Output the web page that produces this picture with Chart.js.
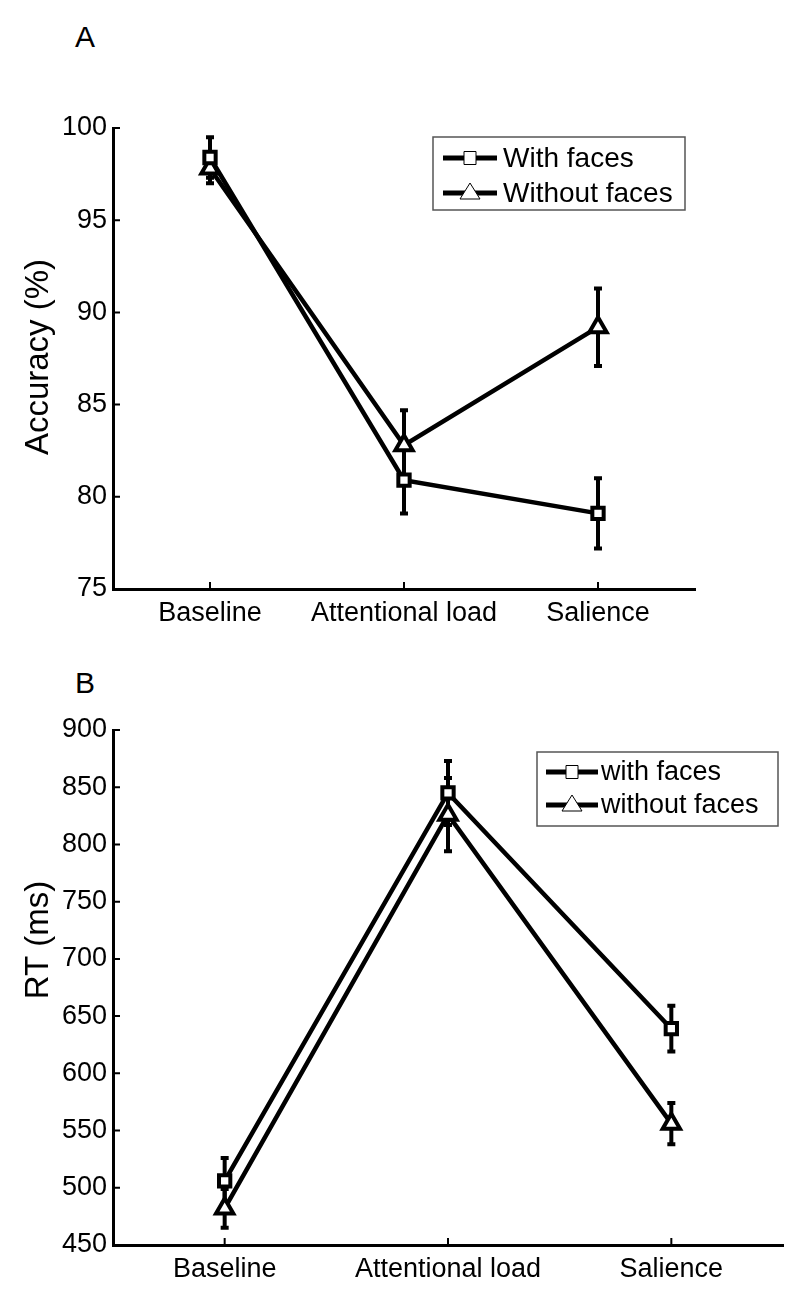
<!DOCTYPE html>
<html>
<head>
<meta charset="utf-8">
<script src="https://cdn.jsdelivr.net/npm/chart.js@4"></script>
<style>
    body { margin: 0; background: #fff; width: 800px; height: 1304px; position: relative; overflow: hidden; font-family: "Liberation Sans", Arial, sans-serif; }
    .letter { position: absolute; left: 75px; font-size: 30px; line-height: 30px; color: #000; }
    canvas { position: absolute; left: 0; }
</style>
</head>
<body>
<div class="letter" style="top:22px">A</div>
<canvas id="chartA" width="800" height="650" style="top:0"></canvas>
<div class="letter" style="top:668px">B</div>
<canvas id="chartB" width="800" height="654" style="top:650px"></canvas>
<script>
// data
const categories = ['Baseline', 'Attentional load', 'Salience'];

const accWithFaces = [98.4, 80.9, 79.1];
const accWithFacesErr = [1.1, 1.8, 1.9];
const accWithoutFaces = [97.8, 82.8, 89.2];
const accWithoutFacesErr = [0.8, 1.9, 2.1];
const accTicks = [75, 80, 85, 90, 95, 100];

const rtWithFaces = [506, 845, 639];
const rtWithFacesErr = [20, 28, 20];
const rtWithoutFaces = [482, 826, 556];
const rtWithoutFacesErr = [17, 32, 18];
const rtTicks = [450, 500, 550, 600, 650, 700, 750, 800, 850, 900];

Chart.defaults.font.family = '"Liberation Sans", Arial, sans-serif';
Chart.defaults.color = '#000';

// vertical error bars with caps
const errorBars = {
    id: 'errorBars',
    beforeDatasetsDraw(chart) {
        const ctx = chart.ctx;
        const x = chart.scales.x, y = chart.scales.y;
        ctx.save();
        ctx.strokeStyle = '#000';
        ctx.lineWidth = 4;
        chart.data.datasets.forEach(ds => {
            ds.data.forEach((v, j) => {
                const e = ds.errors[j];
                const px = x.getPixelForValue(j);
                const top = y.getPixelForValue(v + e);
                const bot = y.getPixelForValue(v - e);
                ctx.beginPath();
                ctx.moveTo(px, top); ctx.lineTo(px, bot);
                ctx.moveTo(px - 4, top); ctx.lineTo(px + 4, top);
                ctx.moveTo(px - 4, bot); ctx.lineTo(px + 4, bot);
                ctx.stroke();
            });
        });
        ctx.restore();
    }
};

// matlab style ticks pointing into the plot
const innerTicks = {
    id: 'innerTicks',
    afterDraw(chart) {
        const ctx = chart.ctx;
        const x = chart.scales.x, y = chart.scales.y;
        const area = chart.chartArea;
        ctx.save();
        ctx.strokeStyle = '#000';
        ctx.lineWidth = 2;
        ctx.beginPath();
        y.ticks.forEach((t, i) => {
            const py = y.getPixelForTick(i);
            ctx.moveTo(area.left, py); ctx.lineTo(area.left + 7, py);
        });
        x.ticks.forEach((t, i) => {
            const px = x.getPixelForTick(i);
            ctx.moveTo(px, area.bottom); ctx.lineTo(px, area.bottom - 7);
        });
        ctx.stroke();
        ctx.restore();
    }
};

// y label drawn by hand so it can sit off the axis centre
const sideTitle = {
    id: 'sideTitle',
    afterDraw(chart, args, o) {
        const ctx = chart.ctx;
        ctx.save();
        ctx.translate(o.x, o.y);
        ctx.rotate(-Math.PI / 2);
        ctx.fillStyle = '#000';
        ctx.font = o.fontSize + 'px "Liberation Sans", Arial, sans-serif';
        ctx.textAlign = 'center';
        ctx.textBaseline = 'middle';
        ctx.fillText(o.text, 0, 0);
        ctx.restore();
    }
};

// boxed legend inside the plot, like matlab
const boxLegend = {
    id: 'boxLegend',
    afterDraw(chart, args, o) {
        const ctx = chart.ctx;
        ctx.save();
        ctx.fillStyle = '#fff';
        ctx.fillRect(o.x, o.y, o.w, o.h);
        ctx.strokeStyle = '#555';
        ctx.lineWidth = 1.5;
        ctx.strokeRect(o.x, o.y, o.w, o.h);
        chart.data.datasets.forEach((ds, i) => {
            const cy = o.y + o.firstRow + i * o.rowGap;
            const x0 = o.x + o.lineStart, x1 = o.x + o.lineEnd;
            const cx = (x0 + x1) / 2;
            ctx.strokeStyle = '#000';
            ctx.lineWidth = 5;
            ctx.beginPath();
            ctx.moveTo(x0, cy); ctx.lineTo(x1, cy);
            ctx.stroke();
            ctx.fillStyle = '#fff';
            ctx.lineWidth = 1;
            ctx.beginPath();
            if (ds.pointStyle === 'rect') {
                ctx.rect(cx - 6, cy - 6.5, 12, 13);
            } else {
                ctx.moveTo(cx, cy - 10);
                ctx.lineTo(cx + 10, cy + 6);
                ctx.lineTo(cx - 10, cy + 6);
                ctx.closePath();
            }
            ctx.fill();
            ctx.stroke();
            ctx.fillStyle = '#000';
            ctx.font = o.fontSize + 'px "Liberation Sans", Arial, sans-serif';
            ctx.textBaseline = 'middle';
            ctx.textAlign = 'left';
            ctx.fillText(ds.label, o.x + o.textX, cy + 1);
        });
        ctx.restore();
    }
};

function series(label, data, errors, style, radius) {
    return {
        label: label,
        data: data,
        errors: errors,
        borderColor: '#000',
        borderWidth: 4.5,
        pointStyle: style,
        pointRadius: radius,
        pointBorderWidth: 4,
        pointBackgroundColor: '#fff',
        pointBorderColor: '#000',
        tension: 0,
        fill: false
    };
}

function makeChart(id, datasets, yMin, yMax, yStep, title, pad, xHeight, legend) {
    return new Chart(document.getElementById(id), {
        type: 'line',
        data: { labels: categories, datasets: datasets },
        options: {
            responsive: false,
            animation: false,
            layout: { padding: pad },
            scales: {
                x: {
                    offset: true,
                    grid: { display: true, drawOnChartArea: false, drawTicks: false },
                    border: { color: '#000', width: 3 },
                    ticks: { font: { size: 27 }, color: '#000', padding: 8, maxRotation: 0 },
                    afterFit: s => { s.height = xHeight; }
                },
                y: {
                    min: yMin,
                    max: yMax,
                    grid: { display: true, drawOnChartArea: false, drawTicks: false },
                    border: { color: '#000', width: 3 },
                    ticks: { stepSize: yStep, font: { size: 27 }, color: '#000', padding: 6 },
                    afterFit: s => { s.width = 113; }
                }
            },
            plugins: {
                legend: { display: false },
                tooltip: { enabled: false },
                boxLegend: legend,
                sideTitle: title
            }
        },
        plugins: [errorBars, innerTicks, boxLegend, sideTitle]
    });
}

makeChart('chartA', [
    series('With faces', accWithFaces, accWithFacesErr, 'rect', 8),
    series('Without faces', accWithoutFaces, accWithoutFacesErr, 'triangle', 10)
], accTicks[0], accTicks[accTicks.length - 1], 5,
    { text: 'Accuracy (%)', x: 39, y: 357, fontSize: 33 },
    { top: 128, right: 105, left: 0, bottom: 0 }, 61,
    { x: 433, y: 137, w: 252, h: 73, firstRow: 21, rowGap: 35, lineStart: 10, lineEnd: 64, textX: 70, fontSize: 28 });

makeChart('chartB', [
    series('with faces', rtWithFaces, rtWithFacesErr, 'rect', 8),
    series('without faces', rtWithoutFaces, rtWithoutFacesErr, 'triangle', 10)
], rtTicks[0], rtTicks[rtTicks.length - 1], 50,
    { text: 'RT (ms)', x: 39, y: 290, fontSize: 33 },
    { top: 80, right: 17, left: 0, bottom: 0 }, 59,
    { x: 537, y: 102, w: 241, h: 74, firstRow: 20, rowGap: 33, lineStart: 9, lineEnd: 61, textX: 64, fontSize: 27 });
</script>
</body>
</html>
